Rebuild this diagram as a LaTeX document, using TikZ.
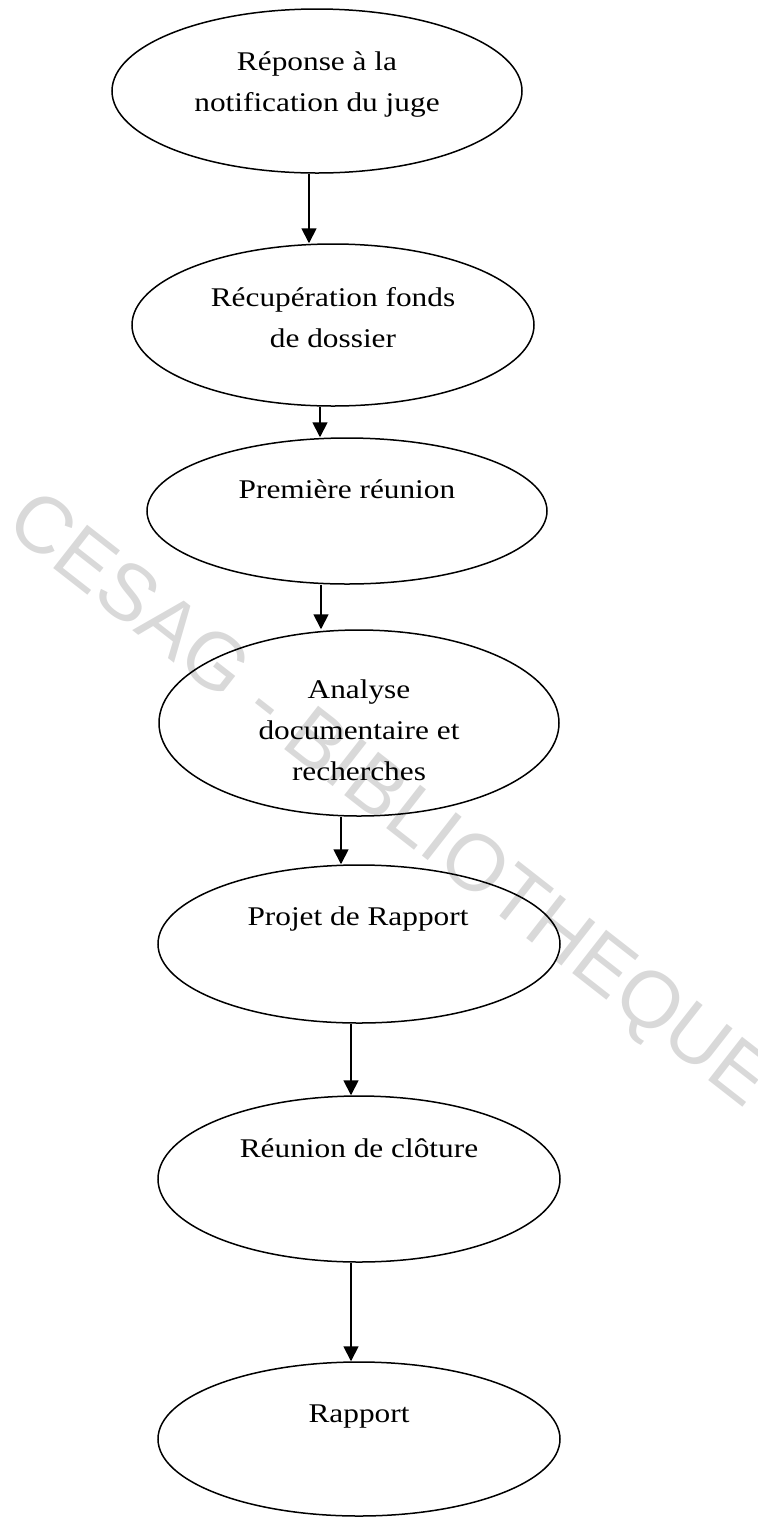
\documentclass[tikz,border=0pt]{standalone}
\usepackage{fontspec}
\setmainfont{Liberation Serif}
\newfontfamily\stagefont[FakeStretch=1.16]{Liberation Serif}
\newfontfamily\markfont{Liberation Sans}
\usetikzlibrary{shapes.geometric,arrows.meta}

\tikzset{
  stage/.style={ellipse, draw, line width=0.75pt, inner sep=0pt},
  lbl/.style={anchor=base, align=center, inner sep=0pt,
    font=\stagefont\fontsize{13.5}{20.5}\selectfont},
  flow/.style={line width=0.9pt, -{Triangle[length=7.5pt,width=7.5pt]}}
}

\begin{document}
\begin{tikzpicture}[x=0.5pt,y=-0.5pt]

          \useasboundingbox (0,0) rectangle (758,1517);

          \node[rotate=-38, text=black!15, inner sep=0pt,
            font=\markfont\fontsize{40}{40}\selectfont] (mark) at (387,803)
            {CESAG - BIBLIOTHEQUE};

          \node[stage, minimum width=205pt, minimum height=82pt] (e1) at (317,91) {};
          \node[stage, minimum width=201pt, minimum height=81pt] (e2) at (333,325) {};
          \node[stage, minimum width=200pt, minimum height=73pt] (e3) at (347,511) {};
          \node[stage, minimum width=200pt, minimum height=93pt] (e4) at (359,723) {};
          \node[stage, minimum width=201pt, minimum height=79pt] (e5) at (359,944) {};
          \node[stage, minimum width=201pt, minimum height=83pt] (e6) at (359,1179) {};
          \node[stage, minimum width=201pt, minimum height=77pt] (e7) at (359,1439) {};

          \node[lbl] (t1) at (317,111) {Réponse à la\\notification du juge};
          \node[lbl] (t2) at (333,347) {Récupération fonds\\de dossier};
          \node[lbl] (t3) at (347,498) {Première réunion};
          \node[lbl] (t4) at (359,780) {Analyse\\documentaire et\\recherches};
          \node[lbl] (t5) at (358,925) {Projet de Rapport};
          \node[lbl] (t6) at (359,1157) {Réunion de clôture};
          \node[lbl] (t7) at (359,1422) {Rapport};

          \draw[flow] (309,0 |- e1.south) -- (309,0 |- e2.north);
          \draw[flow] (320,0 |- e2.south) -- (320,0 |- e3.north);
          \draw[flow] (321,0 |- e3.south) -- (321,0 |- e4.north);
          \draw[flow] (341,0 |- e4.south) -- (341,0 |- e5.north);
          \draw[flow] (351,0 |- e5.south) -- (351,0 |- e6.north);
          \draw[flow] (351,0 |- e6.south) -- (351,0 |- e7.north);

        \end{tikzpicture}
\end{document}
